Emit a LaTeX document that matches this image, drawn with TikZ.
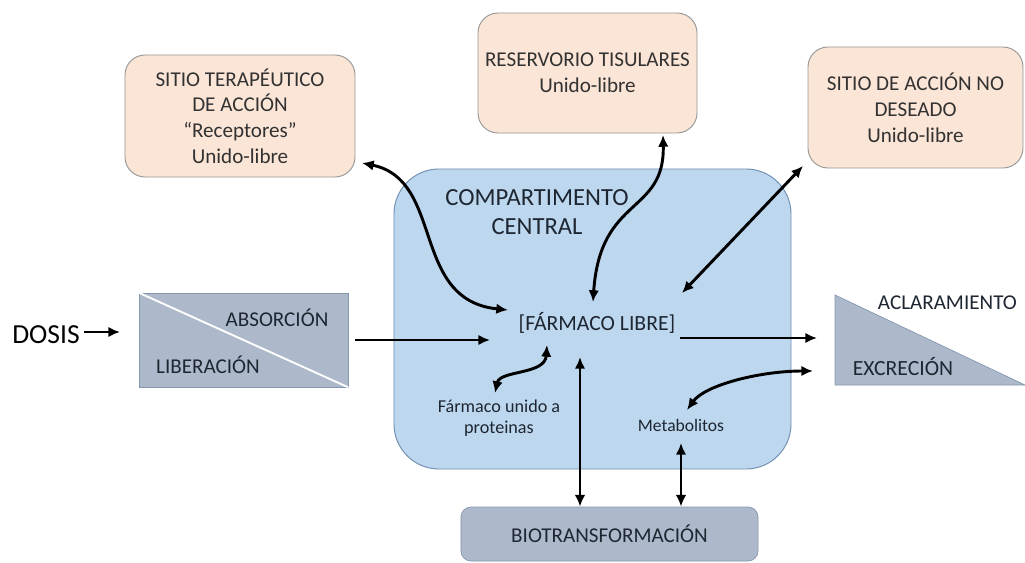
\documentclass[tikz,border=0pt]{standalone}
\usepackage{fontspec}
\setmainfont{Carlito}
\usetikzlibrary{shapes,arrows,arrows.meta,positioning,calc}
\definecolor{sitepeach}{RGB}{251,229,214}
\definecolor{siteborder}{RGB}{150,150,150}
\definecolor{centralblue}{RGB}{189,215,238}
\definecolor{centralborder}{RGB}{112,142,178}
\definecolor{stagegray}{RGB}{173,185,202}
\definecolor{stageborder}{RGB}{132,151,176}
\definecolor{labeldark}{RGB}{30,38,50}
\definecolor{sitetext}{RGB}{50,50,50}

\begin{document}
\begin{tikzpicture}[x=0.03cm, y=-0.03cm,
    site/.style={draw=siteborder, fill=sitepeach, rounded corners=0.6cm, line width=0.8pt, align=center, text=sitetext, font=\fontsize{18}{22}\selectfont},
    stage/.style={draw=stageborder, fill=stagegray, line width=0.6pt},
    lbl/.style={text=labeldark, align=center},
    flow/.style={line width=2.5pt, >={Latex[length=10pt,width=9pt]}}]
				\useasboundingbox (0,0) rectangle (1025,563);
				
				% Sites around the central compartment
				\node[site, minimum width=6.9cm, minimum height=3.66cm] (terap) at (240,116) {SITIO TERAPÉUTICO\\DE ACCIÓN\\“Receptores”\\Unido-libre};
				\node[site, minimum width=6.57cm, minimum height=3.6cm] (reserv) at (587.5,73) {RESERVORIO TISULARES\\Unido-libre};
				\node[site, minimum width=6.45cm, minimum height=3.63cm] (nodes) at (915.5,107.5) {SITIO DE ACCIÓN NO\\DESEADO\\Unido-libre};
				
				% Central compartment
				\node[draw=centralborder, fill=centralblue, line width=0.8pt, rounded corners=1.35cm, minimum width=11.91cm, minimum height=9cm] (central) at (592.5,319) {};
				\node[lbl, font=\fontsize{21}{25}\selectfont] (title) at (537,212) {COMPARTIMENTO\\CENTRAL};
				\node[lbl, font=\fontsize{18.5}{22}\selectfont] (libre) at (597,323) {[FÁRMACO LIBRE]};
				\node[lbl, font=\fontsize{15.5}{18}\selectfont] (unido) at (499,418) {Fármaco unido a\\proteinas};
				\node[lbl, font=\fontsize{15}{18}\selectfont] (metab) at (681,425) {Metabolitos};
				
				% Dose, absorption and release
				\node[font=\fontsize{23.5}{26}\selectfont] (dosis) at (46,335) {DOSIS};
				\node[stage, minimum width=6.27cm, minimum height=2.82cm] (abs) at (243.5,340) {};
				\draw[white, line width=1.6pt] (abs.north west) -- (abs.south east);
				\node[lbl, font=\fontsize{18}{22}\selectfont] (absor) at (277,318) {ABSORCIÓN};
				\node[lbl, font=\fontsize{18}{22}\selectfont] (liber) at (208,365) {LIBERACIÓN};
				
				% Clearance / excretion
				\coordinate (triA) at (835,295);
				\coordinate (triB) at (835,385);
				\coordinate (triC) at (1025,385);
				\filldraw[stagegray, draw=stageborder, line width=0.6pt] (triA) -- (triB) -- (triC) -- cycle;
				\node[lbl, anchor=east, font=\fontsize{18}{22}\selectfont] (aclar) at (1021,303) {ACLARAMIENTO};
				\node[lbl, font=\fontsize{18.5}{22}\selectfont] (excr) at (903,367) {EXCRECIÓN};
				
				% Biotransformation
				\node[stage, rounded corners=0.3cm, minimum width=8.91cm, minimum height=1.62cm, text=labeldark, font=\fontsize{18}{22}\selectfont] (bio) at (609.5,534) {BIOTRANSFORMACIÓN};
				
				% Arrow ends
				\coordinate (dosIn) at (120,332);
				\coordinate (libIn) at (490,340);
				\coordinate (libOut) at (680,338);
				\coordinate (triIn) at (817,338);
				\coordinate (terTip) at (362,163);
				\coordinate (libW) at (508,310);
				\coordinate (resTip) at (663,135);
				\coordinate (libN) at (593,302);
				\coordinate (desTip) at (803,166);
				\coordinate (libNE) at (682,293);
				\coordinate (proTip) at (495,393);
				\coordinate (libSW) at (547,345);
				\coordinate (libS) at (580,357);
				\coordinate (metS) at (681,443);
				\coordinate (metTip) at (687,410);
				\coordinate (excIn) at (813,371);
				
				% Connections
				\draw[flow, ->] (dosis.east |- dosIn) -- (dosIn);
				\draw[flow, ->, shorten <=0.2cm] (abs.east) -- (libIn);
				\draw[flow, ->] (libOut) -- (triIn);
				\draw[flow, <->] (terTip) .. controls (445,180) and (410,300) .. (libW);
				\draw[flow, <->] (resTip) .. controls (665,215) and (600,195) .. (libN);
				\draw[flow, <->] (desTip) -- (libNE);
				\draw[flow, <->] (proTip) .. controls (500,370) and (545,375) .. (libSW);
				\draw[flow, <->] (metTip) .. controls (705,385) and (760,371) .. (excIn);
				\draw[flow, <->] (libS) -- (libS |- bio.north);
				\draw[flow, <->] (metS) -- (metS |- bio.north);
			\end{tikzpicture}
\end{document}
